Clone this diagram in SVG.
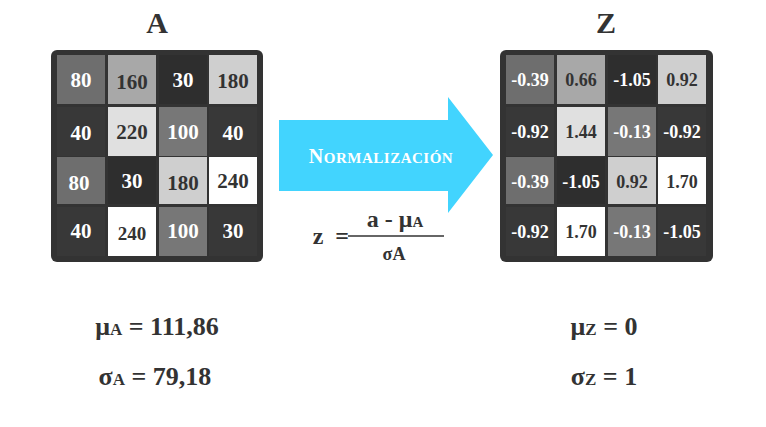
<svg xmlns="http://www.w3.org/2000/svg" width="766" height="427" viewBox="0 0 766 427">
<style>
text{font-family:"Liberation Serif","DejaVu Serif",serif;font-weight:bold;text-anchor:middle}
.c{font-size:21px}
.z{font-size:18px}
.w{fill:#fff}.d{fill:#333}
.t{font-size:30px;fill:#333}
.s{font-size:26px;fill:#333}
</style>
<rect width="766" height="427" fill="#fff"/>
<text class="t" x="157" y="33">A</text>
<text class="t" x="606" y="33">Z</text>
<g id="matrixA">
<rect x="51" y="50" width="212" height="212" rx="6" fill="#333"/>
<rect x="57" y="55" width="48" height="49" fill="#6e6e6e"/><text class="c w" x="81" y="87">80</text>
<rect x="108" y="55" width="48" height="49" fill="#a8a8a8"/><text class="c d" x="132" y="89">160</text>
<rect x="159" y="55" width="48" height="49" fill="#2e2e2e"/><text class="c w" x="183" y="87">30</text>
<rect x="209" y="55" width="48" height="49" fill="#cfcfcf"/><text class="c d" x="233" y="88">180</text>
<rect x="57" y="107" width="48" height="49" fill="#383838"/><text class="c w" x="81" y="140">40</text>
<rect x="108" y="107" width="48" height="49" fill="#e0e0e0"/><text class="c d" x="132" y="139">220</text>
<rect x="159" y="107" width="48" height="49" fill="#777"/><text class="c w" x="183" y="139">100</text>
<rect x="209" y="107" width="48" height="49" fill="#383838"/><text class="c w" x="233" y="140">40</text>
<rect x="57" y="157" width="48" height="47" fill="#6e6e6e"/><text class="c w" x="79" y="190">80</text>
<rect x="108" y="157" width="48" height="47" fill="#2e2e2e"/><text class="c w" x="132" y="188">30</text>
<rect x="159" y="157" width="48" height="47" fill="#cfcfcf"/><text class="c d" x="183" y="190">180</text>
<rect x="209" y="157" width="48" height="47" fill="#fff"/><text class="c d" x="233" y="188">240</text>
<rect x="57" y="207" width="48" height="49" fill="#383838"/><text class="c w" x="81" y="238">40</text>
<rect x="108" y="207" width="48" height="49" fill="#fff"/><text class="c d" x="132" y="240" style="font-size:19px">240</text>
<rect x="159" y="207" width="48" height="49" fill="#777"/><text class="c w" x="183" y="238">100</text>
<rect x="209" y="207" width="48" height="49" fill="#383838"/><text class="c w" x="233" y="238">30</text>
</g>
<g id="matrixZ">
<rect x="500" y="50" width="213" height="212" rx="6" fill="#333"/>
<rect x="506" y="55" width="48" height="49" fill="#6e6e6e"/><text class="z w" x="530" y="86">-0.39</text>
<rect x="557" y="55" width="48" height="49" fill="#a8a8a8"/><text class="z d" x="581" y="86">0.66</text>
<rect x="608" y="55" width="48" height="49" fill="#2e2e2e"/><text class="z w" x="632" y="86">-1.05</text>
<rect x="658" y="55" width="48" height="49" fill="#cfcfcf"/><text class="z d" x="682" y="86">0.92</text>
<rect x="506" y="107" width="48" height="49" fill="#383838"/><text class="z w" x="530" y="138">-0.92</text>
<rect x="557" y="107" width="48" height="49" fill="#e0e0e0"/><text class="z d" x="581" y="138">1.44</text>
<rect x="608" y="107" width="48" height="49" fill="#777"/><text class="z w" x="632" y="138">-0.13</text>
<rect x="658" y="107" width="48" height="49" fill="#383838"/><text class="z w" x="682" y="138">-0.92</text>
<rect x="506" y="157" width="48" height="47" fill="#6e6e6e"/><text class="z w" x="530" y="188">-0.39</text>
<rect x="557" y="157" width="48" height="47" fill="#2e2e2e"/><text class="z w" x="581" y="188">-1.05</text>
<rect x="608" y="157" width="48" height="47" fill="#cfcfcf"/><text class="z d" x="632" y="188">0.92</text>
<rect x="658" y="157" width="48" height="47" fill="#fff"/><text class="z d" x="682" y="188">1.70</text>
<rect x="506" y="207" width="48" height="49" fill="#383838"/><text class="z w" x="530" y="238">-0.92</text>
<rect x="557" y="207" width="48" height="49" fill="#fff"/><text class="z d" x="581" y="238">1.70</text>
<rect x="608" y="207" width="48" height="49" fill="#777"/><text class="z w" x="632" y="238">-0.13</text>
<rect x="658" y="207" width="48" height="49" fill="#383838"/><text class="z w" x="682" y="238">-1.05</text>
</g>
<g id="connectors">
<polygon points="279,120 448,120 448,97 493,155 448,213 448,191 279,191" fill="#42d4fe"/>
<text x="381" y="163" style="font-size:20px;fill:#fff;letter-spacing:0.5px">N<tspan style="font-size:15px">ORMALIZACIÓN</tspan></text>
</g>
<g id="formula">
<text x="318" y="244" style="font-size:24px;fill:#333">z</text>
<text x="342" y="244" style="font-size:24px;fill:#333">=</text>
<text x="395" y="227" style="font-size:24px;fill:#333">a - μ<tspan style="font-size:15px">A</tspan></text>
<line x1="348" y1="236" x2="444" y2="236" stroke="#333" stroke-width="1.5"/>
<text x="394" y="260" style="font-size:18px;fill:#333">σA</text>
</g>
<g id="stats">
<text class="s" x="157" y="335">μ<tspan style="font-size:17px">A</tspan> = 111,86</text>
<text class="s" x="155" y="385">σ<tspan style="font-size:17px">A</tspan> = 79,18</text>
<text class="s" x="604" y="335">μ<tspan style="font-size:17px">Z</tspan> = 0</text>
<text class="s" x="604" y="385">σ<tspan style="font-size:17px">Z</tspan> = 1</text>
</g>
</svg>
